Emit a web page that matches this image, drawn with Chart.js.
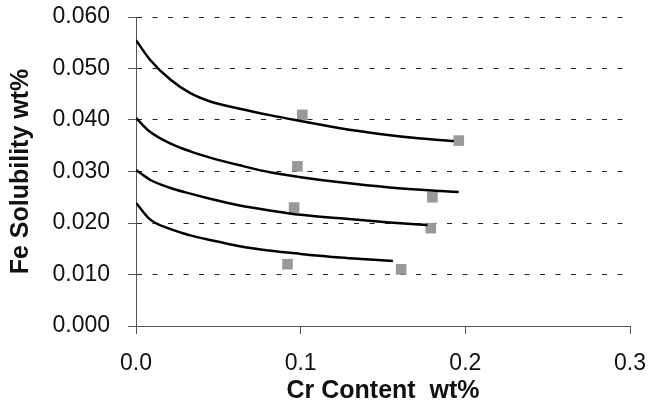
<!DOCTYPE html>
<html>
<head>
<meta charset="utf-8">
<script src="https://cdn.jsdelivr.net/npm/chart.js@4/dist/chart.umd.min.js"></script>
<style>
html,body{margin:0;padding:0;background:#fff;}
#wrap{width:649px;height:407px;}
</style>
</head>
<body>
<div id="wrap"><canvas id="c" width="649" height="407"></canvas></div>
<script>
// Data
const xTitle = 'Cr Content  wt%';
const yTitle = 'Fe Solubility wt%';

const curve1X = [0, 0.0085, 0.021, 0.033, 0.045, 0.063, 0.082, 0.100, 0.124, 0.148, 0.173, 0.193];
const curve1Y = [0.0555, 0.0517, 0.0478, 0.0452, 0.0436, 0.0422, 0.0409, 0.0398, 0.0384, 0.0373, 0.0364, 0.0359];

const curve2X = [0, 0.0085, 0.021, 0.033, 0.045, 0.063, 0.082, 0.100, 0.124, 0.154, 0.185, 0.196];
const curve2Y = [0.0404, 0.0377, 0.0354, 0.0339, 0.0327, 0.0312, 0.0298, 0.0289, 0.0279, 0.0269, 0.0262, 0.0260];

const curve3X = [0, 0.0085, 0.021, 0.033, 0.045, 0.063, 0.082, 0.100, 0.124, 0.154, 0.177];
const curve3Y = [0.0303, 0.0284, 0.0268, 0.0257, 0.0247, 0.0234, 0.0224, 0.0216, 0.0209, 0.0201, 0.0196];

const curve4X = [0, 0.0085, 0.021, 0.033, 0.045, 0.063, 0.082, 0.100, 0.124, 0.142, 0.156];
const curve4Y = [0.0239, 0.0207, 0.0188, 0.0176, 0.0167, 0.0155, 0.0146, 0.0140, 0.0133, 0.0129, 0.0126];

const measX = [0.101, 0.196, 0.098, 0.180, 0.096, 0.179, 0.092, 0.161];
const measY = [0.041, 0.036, 0.031, 0.025, 0.023, 0.019, 0.012, 0.011];

const xTicks = [0, 0.1, 0.2, 0.3];
const yTicks = [0, 0.01, 0.02, 0.03, 0.04, 0.05, 0.06];

function pts(xs, ys){ return xs.map((x,i)=>({x:x, y:ys[i]})); }

function curveDs(xs, ys){
  return {
    type:'scatter', showLine:true, data:pts(xs, ys),
    borderColor:'#000', borderWidth:2.5, pointRadius:0, pointHoverRadius:0,
    cubicInterpolationMode:'monotone', fill:false
  };
}

function zeroPad(s){ s.paddingTop = 0; s.paddingBottom = 0; s.paddingLeft = 0; s.paddingRight = 0; }

const FONT = "'Liberation Sans', Arial, sans-serif";

new Chart(document.getElementById('c'), {
  type:'scatter',
  data:{
    datasets:[
      curveDs(curve1X, curve1Y),
      curveDs(curve2X, curve2Y),
      curveDs(curve3X, curve3Y),
      curveDs(curve4X, curve4Y),
      {
        type:'scatter', data:pts(measX, measY), showLine:false,
        pointStyle:'rect', pointRadius:7.5, pointHoverRadius:7.5,
        backgroundColor:'#999', borderColor:'#999', borderWidth:0
      }
    ]
  },
  options:{
    responsive:false, animation:false,
    layout:{padding:{top:17, right:19, left:0, bottom:0}},
    plugins:{legend:{display:false}, tooltip:{enabled:false}},
    scales:{
      x:{
        type:'linear', min:xTicks[0], max:xTicks[xTicks.length-1],
        afterBuildTicks:(s)=>{ s.ticks = xTicks.map(v=>({value:v})); },
        afterFit:(s)=>{ s.height = 81; zeroPad(s); },
        ticks:{ color:'#111', padding:16, font:{family:FONT, size:23},
          callback:(v)=>Number(v).toFixed(1), maxRotation:0, autoSkip:false },
        grid:{ drawOnChartArea:false, drawTicks:true, tickLength:8, color:'#555', lineWidth:1 },
        border:{ display:true, color:'#555', width:1 },
        title:{ display:true, text:xTitle, color:'#111',
          font:{family:FONT, size:25, weight:'bold'}, padding:{top:0, bottom:1} }
      },
      y:{
        type:'linear', min:yTicks[0], max:yTicks[yTicks.length-1],
        afterBuildTicks:(s)=>{ s.ticks = yTicks.map(v=>({value:v})); },
        afterFit:(s)=>{ s.width = 136; zeroPad(s); },
        ticks:{ color:'#111', padding:18, font:{family:FONT, size:23},
          callback:(v)=>Number(v).toFixed(3), autoSkip:false },
        grid:{ drawOnChartArea:true, drawTicks:true, tickLength:8, color:'#222', lineWidth:1,
          tickBorderDash:[], tickColor:'#555' },
        border:{ display:true, color:'#555', width:1, dash:[5,10.5] },
        title:{ display:true, text:yTitle, color:'#111',
          font:{family:FONT, size:25, weight:'bold'}, padding:{top:6, bottom:0} }
      }
    }
  }
});
</script>
</body>
</html>
